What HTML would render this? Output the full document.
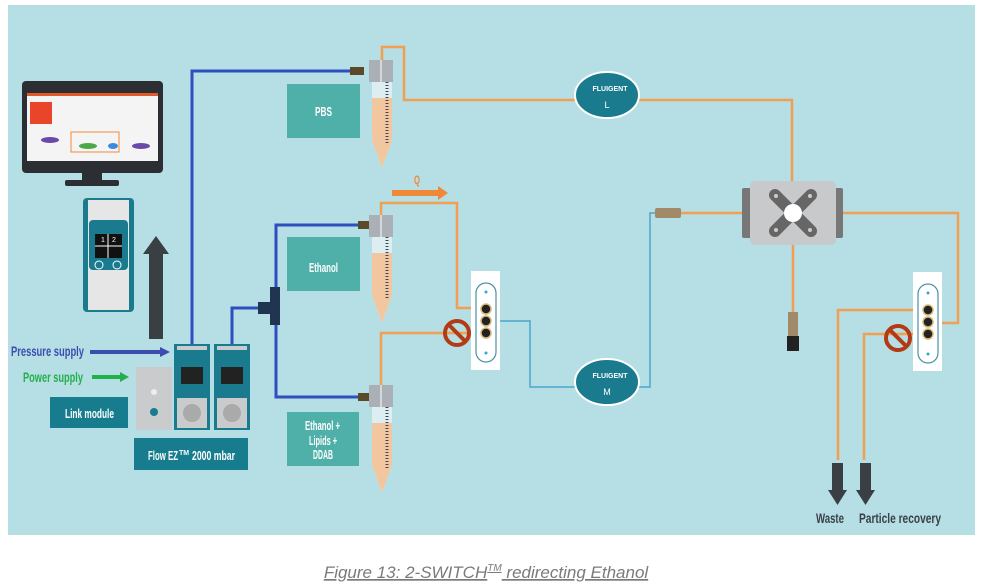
<!DOCTYPE html>
<html><head><meta charset="utf-8"><style>
html,body{margin:0;padding:0;background:#fff;width:981px;height:588px;overflow:hidden}
svg{display:block}
.c{font-family:"Liberation Sans",sans-serif;font-weight:bold}
</style></head><body>
<svg width="981" height="588" viewBox="0 0 981 588" xmlns="http://www.w3.org/2000/svg">
<rect x="8" y="5" width="967" height="530" fill="#b6dee5"/>
<g fill="none" stroke="#2f4fbf" stroke-width="3">
<path d="M192 345 V71 H358"/>
<path d="M232 345 V308 H262"/>
<path d="M367 225 H276 V397 H367"/>
</g>
<rect x="270" y="287" width="10" height="38" fill="#1f3550"/>
<rect x="258" y="302" width="14" height="12" fill="#1f3550"/>
<rect x="350" y="67" width="14" height="8" fill="#5a4a2a"/>
<rect x="358" y="221" width="12" height="8" fill="#5a4a2a"/>
<rect x="358" y="393" width="12" height="8" fill="#5a4a2a"/>
<g fill="none" stroke="#f0a050" stroke-width="2.5">
<path d="M382 60 V47 H404 V100 H576"/>
<path d="M638 100 H792 V183"/>
<path d="M381 215 V203 H457 V308 H486"/>
<path d="M381 385 V333 H486"/>
<path d="M680 213 H742"/>
<path d="M843 213 H958 V323 H930"/>
<path d="M928 310 H838 V460"/>
<path d="M928 334 H864 V460"/>
<path d="M793 245 V312"/>
</g>
<path d="M486 321 H530 V387 H576 M638 387 H650 V213 H656" fill="none" stroke="#4aa6cf" stroke-width="1.5"/>
<rect x="655" y="208" width="26" height="10" rx="2" fill="#a08a6a"/>
<path d="M392 190 H438 V186 L448 193 L438 200 V196 H392Z" fill="#f0883a"/>
<text x="417" y="184" class="c" font-size="12" fill="#f0883a" text-anchor="middle" textLength="6" lengthAdjust="spacingAndGlyphs">Q</text>
<g fill="#4fb0aa">
<rect x="287" y="84" width="73" height="54"/>
<rect x="287" y="237" width="73" height="54"/>
<rect x="287" y="412" width="72" height="54"/>
</g>
<g class="c" fill="#fff" font-size="13">
<text x="315" y="116" textLength="17" lengthAdjust="spacingAndGlyphs">PBS</text>
<text x="309" y="272" textLength="29" lengthAdjust="spacingAndGlyphs">Ethanol</text>
<text x="305" y="430" textLength="35" lengthAdjust="spacingAndGlyphs">Ethanol +</text>
<text x="309" y="445" textLength="28" lengthAdjust="spacingAndGlyphs">Lipids +</text>
<text x="313" y="459" textLength="20" lengthAdjust="spacingAndGlyphs">DDAB</text>
</g>
<g id="t1">
<path d="M372 80 H392 V140 L382 168 L372 140Z" fill="#dceef2"/>
<path d="M372 98 H392 V140 L382 168 L372 140Z" fill="#f2c7a0"/>
<rect x="369" y="60" width="24" height="22" fill="#aab0b6"/>
<line x1="381" y1="60" x2="381" y2="82" stroke="#fff" stroke-width="1"/>
<line x1="387" y1="82" x2="387" y2="145" stroke="#445" stroke-width="3" stroke-dasharray="1 2"/>
</g>
<use href="#t1" transform="translate(0,155)"/>
<use href="#t1" transform="translate(0,325)"/>
<g id="sw">
<rect x="471" y="271" width="29" height="99" fill="#fff"/>
<rect x="476" y="283" width="20" height="79" rx="10" fill="none" stroke="#4a90a8" stroke-width="1.2"/>
<circle cx="486" cy="292" r="1.5" fill="#2aa8e0"/>
<circle cx="486" cy="353" r="1.5" fill="#2aa8e0"/>
<circle cx="486" cy="309" r="5" fill="#222" stroke="#d9b87a" stroke-width="1.5"/>
<circle cx="486" cy="321" r="5" fill="#222" stroke="#d9b87a" stroke-width="1.5"/>
<circle cx="486" cy="333" r="5" fill="#222" stroke="#d9b87a" stroke-width="1.5"/>
</g>
<use href="#sw" transform="translate(442,1)"/>
<g fill="none" stroke="#b23a14" stroke-width="4">
<circle cx="457" cy="333" r="12"/><line x1="449" y1="325" x2="465" y2="341"/>
<circle cx="898" cy="338" r="12"/><line x1="890" y1="330" x2="906" y2="346"/>
</g>
<g id="fu">
<ellipse cx="607" cy="95" rx="32" ry="23" fill="#1a7b8e" stroke="#fff" stroke-width="2"/>
<text x="610" y="91" font-family="Liberation Sans,sans-serif" font-size="7" font-weight="bold" fill="#fff" text-anchor="middle">FLUIGENT</text>
</g>
<text x="607" y="108" font-family="Liberation Sans,sans-serif" font-size="9" fill="#fff" text-anchor="middle">L</text>
<use href="#fu" transform="translate(0,287)"/>
<text x="607" y="395" font-family="Liberation Sans,sans-serif" font-size="9" fill="#fff" text-anchor="middle">M</text>
<rect x="742" y="188" width="14" height="50" rx="2" fill="#777"/>
<rect x="829" y="188" width="14" height="50" rx="2" fill="#777"/>
<rect x="750" y="181" width="86" height="64" rx="5" fill="#c7c9cb"/>
<path d="M775 195 L811 231 M811 195 L775 231" stroke="#666" stroke-width="12" stroke-linecap="round"/>
<circle cx="793" cy="213" r="9" fill="#fff"/>
<circle cx="776" cy="196" r="2" fill="#ccc"/><circle cx="810" cy="196" r="2" fill="#ccc"/>
<circle cx="776" cy="230" r="2" fill="#ccc"/><circle cx="810" cy="230" r="2" fill="#ccc"/>
<rect x="788" y="312" width="10" height="24" fill="#a08a6a"/>
<rect x="787" y="336" width="12" height="15" fill="#222"/>
<g fill="#3a3f44">
<rect x="832" y="463" width="11" height="28"/><path d="M828 490 H847 L837.5 505Z"/>
<rect x="860" y="463" width="11" height="28"/><path d="M856 490 H875 L865.5 505Z"/>
</g>
<text x="816" y="523" class="c" font-size="14" fill="#3a4048" textLength="28" lengthAdjust="spacingAndGlyphs">Waste</text>
<text x="859" y="523" class="c" font-size="14" fill="#3a4048" textLength="82" lengthAdjust="spacingAndGlyphs">Particle recovery</text>
<rect x="22" y="81" width="141" height="92" rx="4" fill="#2b2e33"/>
<rect x="27" y="93" width="131" height="68" fill="#f4f4f4"/>
<rect x="27" y="93" width="131" height="3" fill="#e05a2a"/>
<rect x="30" y="102" width="22" height="22" fill="#e8452a"/>
<rect x="71" y="132" width="48" height="20" fill="none" stroke="#f08a3a"/>
<ellipse cx="50" cy="140" rx="9" ry="3" fill="#6a4aa8"/><ellipse cx="88" cy="146" rx="9" ry="3" fill="#4aa84a"/>
<ellipse cx="113" cy="146" rx="5" ry="3" fill="#3a8ae0"/><ellipse cx="141" cy="146" rx="9" ry="3" fill="#6a4aa8"/>
<rect x="82" y="173" width="20" height="8" fill="#2b2e33"/>
<rect x="65" y="180" width="54" height="6" rx="2" fill="#2b2e33"/>
<rect x="83" y="198" width="51" height="114" rx="4" fill="#1a7b8e"/>
<rect x="88" y="200" width="41" height="110" fill="#e6e6e6"/>
<rect x="89" y="220" width="39" height="50" rx="4" fill="#1a7b8e"/>
<rect x="95" y="234" width="27" height="24" fill="#111"/>
<line x1="108" y1="234" x2="108" y2="258" stroke="#fff"/><line x1="95" y1="246" x2="122" y2="246" stroke="#fff"/>
<text x="101" y="242" font-size="7" fill="#fff" font-family="Liberation Sans,sans-serif">1</text>
<text x="112" y="242" font-size="7" fill="#fff" font-family="Liberation Sans,sans-serif">2</text>
<circle cx="99" cy="265" r="4" fill="none" stroke="#fff"/><circle cx="117" cy="265" r="4" fill="none" stroke="#fff"/>
<rect x="149" y="253" width="14" height="86" fill="#3a3f44"/>
<path d="M143 254 H169 L156 236Z" fill="#3a3f44"/>
<text x="11" y="356" class="c" font-size="14" fill="#3c4db0" textLength="73" lengthAdjust="spacingAndGlyphs">Pressure supply</text>
<path d="M90 350 H160 V347 L170 352 L160 357 V354 H90Z" fill="#3c4db0"/>
<text x="23" y="382" class="c" font-size="14" fill="#22b04b" textLength="60" lengthAdjust="spacingAndGlyphs">Power supply</text>
<path d="M92 375 H120 V372 L129 377 L120 382 V379 H92Z" fill="#22b04b"/>
<rect x="50" y="397" width="78" height="31" fill="#167c8e"/>
<text x="65" y="418" class="c" font-size="13" fill="#fff" textLength="49" lengthAdjust="spacingAndGlyphs">Link module</text>
<rect x="136" y="367" width="36" height="63" fill="#c9cbcd"/>
<circle cx="154" cy="392" r="3" fill="#eee"/><circle cx="154" cy="412" r="4" fill="#167c8e"/>
<g id="fez">
<rect x="174" y="344" width="36" height="86" fill="#1a7b8e"/>
<rect x="177" y="346" width="30" height="4" fill="#c9cbcd"/>
<rect x="181" y="367" width="22" height="17" fill="#222"/>
<rect x="177" y="398" width="30" height="30" fill="#c9cbcd"/>
<circle cx="192" cy="413" r="9" fill="#aaa"/>
</g>
<use href="#fez" transform="translate(40,0)"/>
<rect x="134" y="438" width="114" height="32" fill="#167c8e"/>
<text x="148" y="460" class="c" font-size="13" fill="#fff" textLength="30" lengthAdjust="spacingAndGlyphs">Flow EZ</text>
<text x="179" y="455" class="c" font-size="7" fill="#fff">TM</text>
<text x="192" y="460" class="c" font-size="13" fill="#fff" textLength="43" lengthAdjust="spacingAndGlyphs">2000 mbar</text>
<text x="486" y="578" font-family="Liberation Sans,sans-serif" font-style="italic" font-size="17" fill="#7a7a7a" text-anchor="middle" text-decoration="underline">Figure 13: 2-SWITCH<tspan font-size="10" dy="-7">TM</tspan><tspan dy="7"> redirecting Ethanol</tspan></text>
</svg>
</body></html>
